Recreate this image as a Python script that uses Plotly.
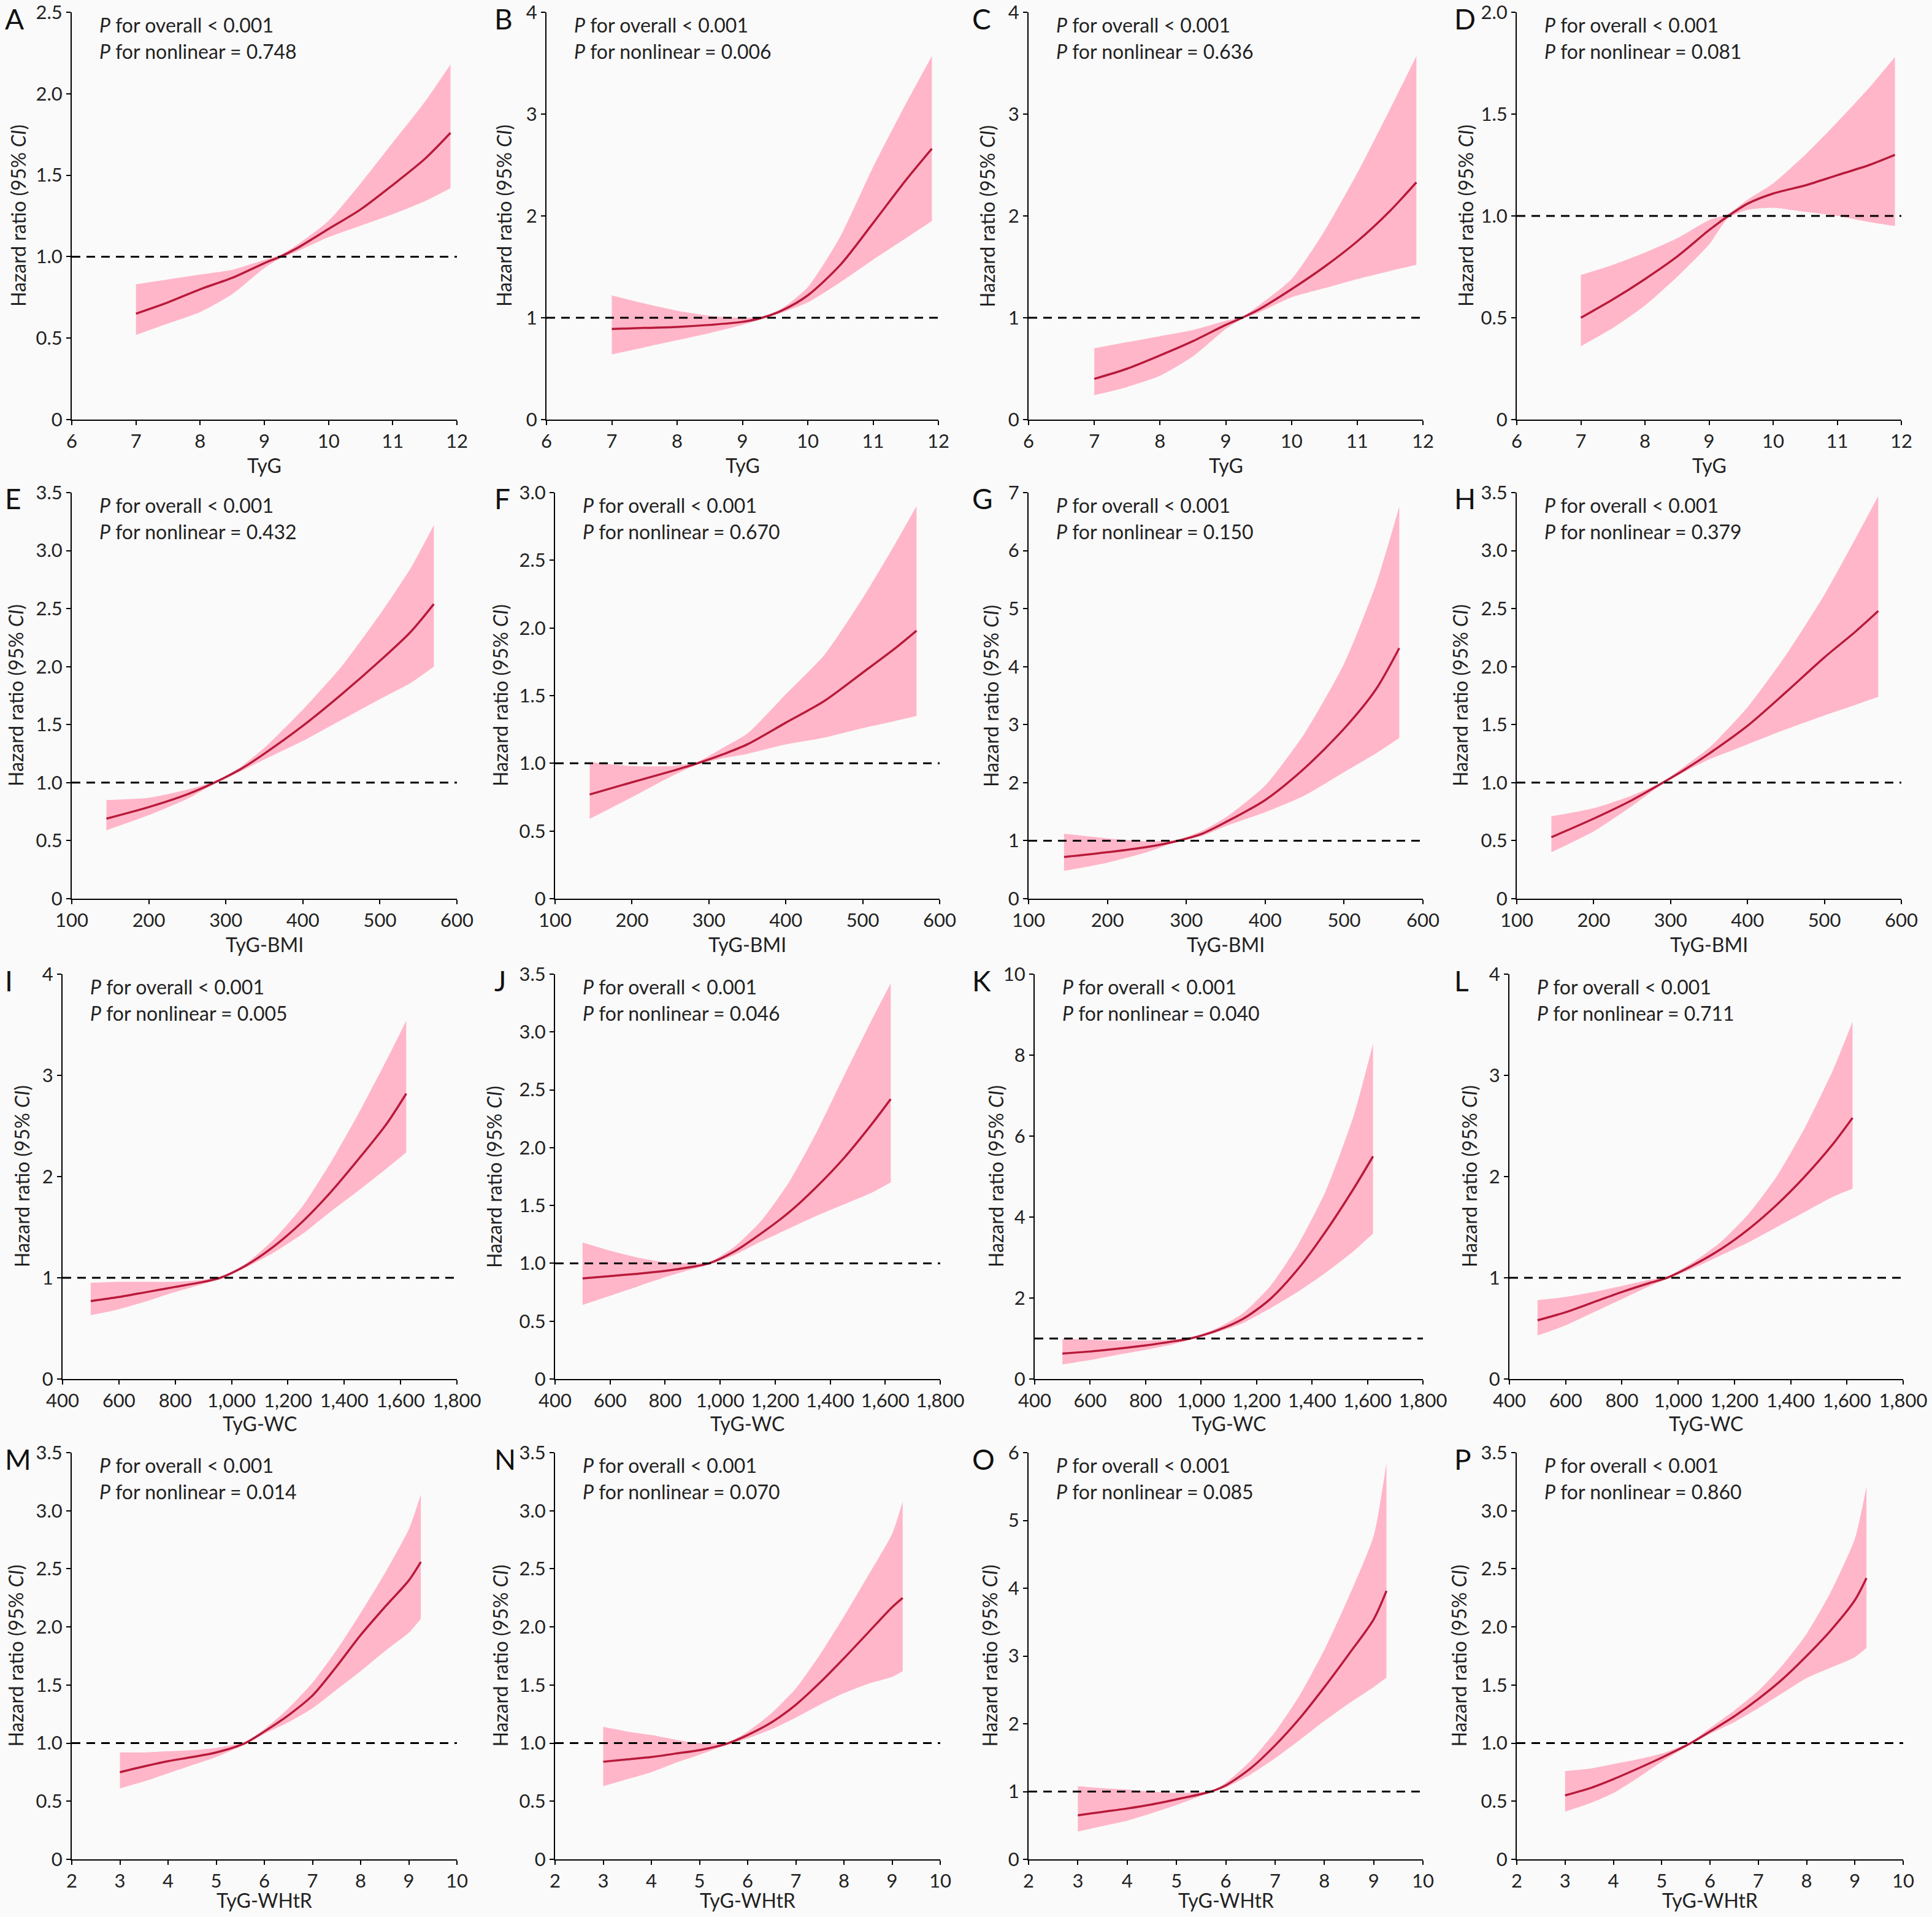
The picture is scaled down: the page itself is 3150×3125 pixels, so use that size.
import plotly.graph_objects as go

W, H = 3150, 3125
BG = '#fafafa'
BAND = '#ffb6c9'
LINE = '#b81a3a'
FONT = 'Lato'

# ---- TyG (row 1) ----
a_x = [7, 7.5, 8, 8.5, 9, 9.25, 9.5, 10, 10.5, 11, 11.5, 11.9]
a_hr = [0.65, 0.72, 0.80, 0.87, 0.96, 1.00, 1.05, 1.17, 1.29, 1.44, 1.60, 1.76]
a_lo = [0.52, 0.59, 0.66, 0.77, 0.93, 0.99, 1.03, 1.12, 1.19, 1.26, 1.34, 1.42]
a_hi = [0.83, 0.86, 0.89, 0.92, 0.98, 1.01, 1.07, 1.22, 1.45, 1.70, 1.95, 2.18]

b_x = [7, 7.5, 8, 8.5, 9, 9.3, 9.6, 10, 10.5, 11, 11.5, 11.9]
b_hr = [0.89, 0.90, 0.91, 0.93, 0.96, 1.00, 1.07, 1.22, 1.52, 1.93, 2.35, 2.66]
b_lo = [0.64, 0.71, 0.78, 0.85, 0.93, 0.99, 1.05, 1.15, 1.35, 1.57, 1.78, 1.95]
b_hi = [1.22, 1.14, 1.07, 1.02, 1.00, 1.01, 1.09, 1.30, 1.80, 2.48, 3.10, 3.57]

c_x = [7, 7.5, 8, 8.5, 9, 9.25, 9.5, 10, 10.5, 11, 11.5, 11.9]
c_hr = [0.40, 0.50, 0.63, 0.77, 0.93, 1.00, 1.08, 1.28, 1.50, 1.75, 2.05, 2.33]
c_lo = [0.24, 0.32, 0.43, 0.62, 0.89, 0.99, 1.05, 1.20, 1.29, 1.38, 1.46, 1.52]
c_hi = [0.70, 0.76, 0.82, 0.88, 0.97, 1.01, 1.12, 1.38, 1.85, 2.42, 3.05, 3.57]

d_x = [7, 7.5, 8, 8.5, 9, 9.3, 9.6, 10, 10.5, 11, 11.5, 11.9]
d_hr = [0.50, 0.59, 0.69, 0.80, 0.93, 1.00, 1.06, 1.11, 1.15, 1.20, 1.25, 1.30]
d_lo = [0.36, 0.45, 0.56, 0.70, 0.86, 0.99, 1.03, 1.04, 1.02, 1.00, 0.97, 0.95]
d_hi = [0.71, 0.76, 0.82, 0.89, 0.98, 1.01, 1.08, 1.16, 1.30, 1.46, 1.63, 1.78]

# ---- TyG-BMI (row 2) ----
e_x = [145, 200, 250, 285, 320, 350, 400, 450, 500, 540, 570]
e_hr = [0.69, 0.79, 0.90, 1.00, 1.12, 1.25, 1.49, 1.76, 2.05, 2.30, 2.54]
e_lo = [0.59, 0.72, 0.86, 0.99, 1.10, 1.20, 1.36, 1.54, 1.72, 1.86, 2.00]
e_hi = [0.85, 0.87, 0.94, 1.01, 1.14, 1.30, 1.63, 2.00, 2.45, 2.85, 3.22]

f_x = [145, 200, 250, 285, 320, 350, 400, 450, 500, 540, 570]
f_hr = [0.77, 0.86, 0.94, 1.00, 1.07, 1.14, 1.30, 1.46, 1.67, 1.84, 1.98]
f_lo = [0.59, 0.75, 0.90, 0.99, 1.04, 1.07, 1.14, 1.19, 1.26, 1.31, 1.35]
f_hi = [1.01, 0.98, 0.98, 1.01, 1.12, 1.22, 1.51, 1.80, 2.22, 2.60, 2.90]

g_x = [145, 200, 250, 290, 320, 350, 400, 450, 500, 540, 570]
g_hr = [0.72, 0.80, 0.89, 1.00, 1.12, 1.32, 1.70, 2.25, 2.93, 3.60, 4.32]
g_lo = [0.48, 0.62, 0.80, 0.99, 1.08, 1.25, 1.49, 1.78, 2.18, 2.50, 2.77]
g_hi = [1.12, 1.04, 0.99, 1.02, 1.17, 1.40, 1.95, 2.85, 4.05, 5.40, 6.76]

h_x = [145, 200, 250, 290, 320, 350, 400, 450, 500, 540, 570]
h_hr = [0.53, 0.69, 0.85, 1.00, 1.12, 1.25, 1.49, 1.78, 2.08, 2.30, 2.48]
h_lo = [0.40, 0.58, 0.80, 0.99, 1.10, 1.20, 1.33, 1.46, 1.58, 1.67, 1.74]
h_hi = [0.71, 0.78, 0.89, 1.01, 1.15, 1.30, 1.65, 2.10, 2.62, 3.10, 3.47]

# ---- TyG-WC (row 3) ----
wc_x = [500, 600, 700, 800, 900, 960, 1050, 1150, 1250, 1350, 1450, 1550, 1620]

i_hr = [0.77, 0.81, 0.86, 0.91, 0.96, 1.00, 1.12, 1.31, 1.55, 1.84, 2.17, 2.52, 2.82]
i_lo = [0.63, 0.69, 0.77, 0.86, 0.94, 0.99, 1.10, 1.25, 1.43, 1.65, 1.86, 2.08, 2.24]
i_hi = [0.95, 0.96, 0.96, 0.96, 0.98, 1.01, 1.14, 1.38, 1.70, 2.13, 2.62, 3.15, 3.54]

j_hr = [0.87, 0.89, 0.91, 0.935, 0.97, 1.00, 1.10, 1.26, 1.44, 1.66, 1.91, 2.20, 2.42]
j_lo = [0.64, 0.72, 0.80, 0.88, 0.95, 0.99, 1.07, 1.19, 1.30, 1.41, 1.51, 1.61, 1.70]
j_hi = [1.18, 1.11, 1.05, 1.01, 1.00, 1.01, 1.14, 1.37, 1.70, 2.13, 2.62, 3.10, 3.42]

k_hr = [0.63, 0.68, 0.75, 0.83, 0.93, 1.00, 1.18, 1.48, 1.98, 2.72, 3.65, 4.70, 5.50]
k_lo = [0.36, 0.47, 0.60, 0.72, 0.86, 0.97, 1.14, 1.38, 1.75, 2.16, 2.63, 3.16, 3.59]
k_hi = [1.00, 0.97, 0.95, 0.95, 0.97, 1.02, 1.23, 1.62, 2.30, 3.32, 4.65, 6.50, 8.28]

l_hr = [0.58, 0.66, 0.76, 0.86, 0.95, 1.00, 1.12, 1.28, 1.48, 1.72, 2.00, 2.32, 2.58]
l_lo = [0.43, 0.53, 0.66, 0.79, 0.92, 0.99, 1.09, 1.22, 1.35, 1.50, 1.65, 1.80, 1.88]
l_hi = [0.78, 0.81, 0.86, 0.92, 0.98, 1.01, 1.15, 1.35, 1.63, 2.00, 2.48, 3.05, 3.53]

# ---- TyG-WHtR (row 4) ----
m_x = [3, 3.5, 4, 4.5, 5, 5.6, 6, 6.5, 7, 7.5, 8, 8.5, 9, 9.25]
m_hr = [0.75, 0.80, 0.845, 0.88, 0.92, 1.00, 1.10, 1.24, 1.41, 1.66, 1.93, 2.17, 2.40, 2.56]
m_lo = [0.61, 0.67, 0.74, 0.81, 0.88, 0.99, 1.08, 1.18, 1.30, 1.46, 1.62, 1.79, 1.95, 2.07]
m_hi = [0.92, 0.92, 0.93, 0.94, 0.96, 1.01, 1.12, 1.30, 1.52, 1.80, 2.12, 2.46, 2.84, 3.14]

n_x = [3, 3.5, 4, 4.5, 5, 5.6, 6, 6.5, 7, 7.5, 8, 8.5, 9, 9.22]
n_hr = [0.84, 0.86, 0.88, 0.91, 0.94, 1.00, 1.07, 1.18, 1.33, 1.52, 1.73, 1.95, 2.17, 2.25]
n_lo = [0.63, 0.69, 0.75, 0.83, 0.90, 0.99, 1.04, 1.12, 1.22, 1.33, 1.43, 1.51, 1.57, 1.62]
n_hi = [1.14, 1.10, 1.07, 1.03, 1.00, 1.01, 1.10, 1.26, 1.47, 1.76, 2.09, 2.44, 2.80, 3.08]

o_x = [3, 3.5, 4, 4.5, 5, 5.7, 6, 6.5, 7, 7.5, 8, 8.5, 9, 9.26]
o_hr = [0.65, 0.70, 0.75, 0.81, 0.885, 1.00, 1.09, 1.34, 1.68, 2.08, 2.54, 3.03, 3.54, 3.96]
o_lo = [0.41, 0.49, 0.57, 0.68, 0.80, 0.99, 1.06, 1.25, 1.49, 1.76, 2.04, 2.30, 2.54, 2.68]
o_hi = [1.08, 1.05, 1.03, 1.00, 0.98, 1.01, 1.13, 1.45, 1.88, 2.42, 3.09, 3.88, 4.77, 5.85]

p_x = [3, 3.5, 4, 4.5, 5, 5.6, 6, 6.5, 7, 7.5, 8, 8.5, 9, 9.24]
p_hr = [0.55, 0.61, 0.69, 0.78, 0.875, 1.00, 1.10, 1.23, 1.38, 1.55, 1.75, 1.97, 2.23, 2.42]
p_lo = [0.41, 0.48, 0.57, 0.70, 0.84, 0.99, 1.08, 1.18, 1.30, 1.43, 1.56, 1.65, 1.74, 1.82]
p_hi = [0.76, 0.78, 0.82, 0.86, 0.91, 1.01, 1.13, 1.28, 1.45, 1.67, 1.94, 2.30, 2.76, 3.21]

# p values for nonlinearity
p_nonlinear = ['0.748', '0.006', '0.636', '0.081',
               '0.432', '0.670', '0.150', '0.379',
               '0.005', '0.046', '0.040', '0.711',
               '0.014', '0.070', '0.085', '0.860']
letters = list('ABCDEFGHIJKLMNOP')

# x axes per row
row_xlabels = ['TyG', 'TyG-BMI', 'TyG-WC', 'TyG-WHtR']
tyg_ticks = [6, 7, 8, 9, 10, 11, 12]
bmi_ticks = [100, 200, 300, 400, 500, 600]
wc_ticks = [400, 600, 800, 1000, 1200, 1400, 1600, 1800]
whtr_ticks = [2, 3, 4, 5, 6, 7, 8, 9, 10]
row_xticks = [tyg_ticks, bmi_ticks, wc_ticks, whtr_ticks]

# y axis tops and steps
y_max = [2.5, 4, 4, 2.0,
         3.5, 3.0, 7, 3.5,
         4, 3.5, 10, 4,
         3.5, 3.5, 6, 3.5]
y_step = [0.5, 1, 1, 0.5,
          0.5, 0.5, 1, 0.5,
          1, 0.5, 2, 1,
          0.5, 0.5, 1, 0.5]

series = [
    (a_x, a_hr, a_lo, a_hi), (b_x, b_hr, b_lo, b_hi), (c_x, c_hr, c_lo, c_hi), (d_x, d_hr, d_lo, d_hi),
    (e_x, e_hr, e_lo, e_hi), (f_x, f_hr, f_lo, f_hi), (g_x, g_hr, g_lo, g_hi), (h_x, h_hr, h_lo, h_hi),
    (wc_x, i_hr, i_lo, i_hi), (wc_x, j_hr, j_lo, j_hi), (wc_x, k_hr, k_lo, k_hi), (wc_x, l_hr, l_lo, l_hi),
    (m_x, m_hr, m_lo, m_hi), (n_x, n_hr, n_lo, n_hi), (o_x, o_hr, o_lo, o_hi), (p_x, p_hr, p_lo, p_hi),
]

# panel geometry in pixels
row_top = [20, 803, 1588, 2368]
row_bot = [684, 1465, 2248, 3031]
xtitle_off = [74, 74, 72, 66]
lefts = [[117, 891, 1677, 2473], [117, 905, 1677, 2473],
         [102, 905, 1687, 2461], [117, 905, 1677, 2473]]
rights = [[745, 1530, 2320, 3100], [745, 1532, 2320, 3100],
          [745, 1533, 2320, 3103], [745, 1533, 2320, 3103]]
letter_x = [6, 804, 1583, 2369]
ytitle_x = [[30, 822, 1610, 2390], [25, 815, 1615, 2380],
            [35, 805, 1623, 2395], [25, 815, 1613, 2378]]


def px(v):
    return v / W


def py(v):
    return 1 - v / H


def ylabels(top, step):
    vals, labs = [], []
    n = int(round(top / step))
    for k in range(n + 1):
        v = k * step
        vals.append(v)
        if k == 0:
            labs.append('0')
        elif step < 1:
            labs.append(f'{v:.1f}')
        else:
            labs.append(f'{v:g}')
    return vals, labs


fig = go.Figure()
layout = dict(width=W, height=H, autosize=False, margin=dict(l=0, r=0, t=0, b=0, pad=0),
              paper_bgcolor=BG, plot_bgcolor=BG, showlegend=False, template='none',
              font=dict(family=FONT, size=32, color='#222222'))
annotations, shapes = [], []

for i, (xs, hr, lo, hi) in enumerate(series):
    r, c = divmod(i, 4)
    n = i + 1
    xa = 'x' if n == 1 else f'x{n}'
    ya = 'y' if n == 1 else f'y{n}'
    # band and curve
    fig.add_trace(go.Scatter(x=xs, y=lo, mode='lines', line=dict(width=0, shape='spline', smoothing=0.6),
                             xaxis=xa, yaxis=ya, hoverinfo='skip'))
    fig.add_trace(go.Scatter(x=xs, y=hi, mode='lines', fill='tonexty', fillcolor=BAND,
                             line=dict(width=0, shape='spline', smoothing=0.6),
                             xaxis=xa, yaxis=ya, hoverinfo='skip'))
    fig.add_trace(go.Scatter(x=xs, y=hr, mode='lines', line=dict(color=LINE, width=3.5, shape='spline', smoothing=0.8),
                             xaxis=xa, yaxis=ya))

    L, R = lefts[r][c], rights[r][c]
    T, B = row_top[r], row_bot[r]
    xt = row_xticks[r]
    yv, yl = ylabels(y_max[i], y_step[i])
    common = dict(showline=True, linecolor='black', linewidth=2, ticks='outside', ticklen=7,
                  tickwidth=2, tickcolor='black', showgrid=False, zeroline=False, automargin=False,
                  ticklabeloverflow='allow',
                  tickfont=dict(family=FONT, size=31, color='#222222'))
    layout['xaxis' + ('' if n == 1 else str(n))] = dict(
        common, domain=[px(L), px(R)], anchor=ya, range=[xt[0], xt[-1]],
        tickvals=xt, tickformat=',')
    layout['yaxis' + ('' if n == 1 else str(n))] = dict(
        common, domain=[py(B), py(T)], anchor=xa, range=[0, y_max[i]],
        tickvals=yv, ticktext=yl)

    shapes.append(dict(type='line', xref=f'{xa} domain', yref=ya, x0=0, x1=1, y0=1, y1=1,
                       line=dict(color='black', width=3, dash='14px,10px')))

    annotations += [
        dict(x=px(letter_x[c]), y=py(T + 10), xref='paper', yref='paper', text=letters[i],
             showarrow=False, xanchor='left', yanchor='middle', font=dict(size=46, color='#111111')),
        dict(x=px(L + 43), y=py(T + 20), xref='paper', yref='paper',
             text='<i>P</i> for overall &lt; 0.001', showarrow=False, xanchor='left', yanchor='middle'),
        dict(x=px(L + 43), y=py(T + 63), xref='paper', yref='paper',
             text=f'<i>P</i> for nonlinear = {p_nonlinear[i]}', showarrow=False,
             xanchor='left', yanchor='middle'),
        dict(x=px((L + R) / 2), y=py(B + xtitle_off[r]), xref='paper', yref='paper', text=row_xlabels[r],
             showarrow=False, xanchor='center', yanchor='middle'),
        dict(x=px(ytitle_x[r][c]), y=py((T + B) / 2), xref='paper', yref='paper',
             text='Hazard ratio (95% <i>CI</i>)', textangle=-90, showarrow=False,
             xanchor='center', yanchor='middle'),
    ]

layout['annotations'] = annotations
layout['shapes'] = shapes
fig.update_layout(**layout)
fig.write_html("out.html", config={'displayModeBar': False},
               post_script="document.body.style.margin='0';")
